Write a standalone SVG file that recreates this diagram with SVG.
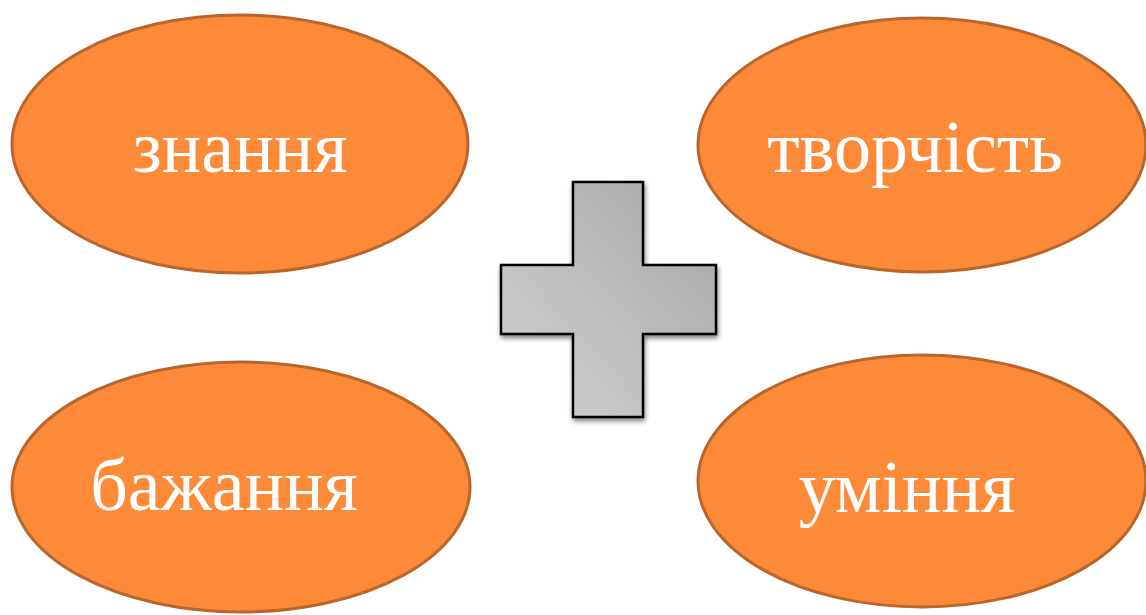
<svg xmlns="http://www.w3.org/2000/svg" width="1146" height="615" viewBox="0 0 1146 615">
<style>
.oval{fill:#fd8a38;stroke:#b8662c;stroke-width:3}
.lbl{font-family:"Liberation Serif","Times New Roman",serif;font-size:74px;fill:#ffffff;text-anchor:middle}
</style>
<defs>
<linearGradient id="g" x1="0" y1="1" x2="1" y2="0">
<stop offset="0" stop-color="#d2d2d2"/>
<stop offset="1" stop-color="#a6a6a6"/>
</linearGradient>
<filter id="sh" x="-20%" y="-20%" width="140%" height="140%">
<feGaussianBlur in="SourceAlpha" stdDeviation="2.5"/>
<feOffset dx="1" dy="3" result="b"/>
<feComponentTransfer><feFuncA type="linear" slope="0.5"/></feComponentTransfer>
<feMerge><feMergeNode/><feMergeNode in="SourceGraphic"/></feMerge>
</filter>
</defs>
<rect width="1146" height="615" fill="#ffffff"/>
<g id="znannia">
<ellipse class="oval" cx="240" cy="144" rx="228" ry="129"/>
<text class="lbl" x="240" y="172">знання</text>
</g>
<g id="tvorchist">
<ellipse class="oval" cx="922" cy="145" rx="224" ry="127"/>
<text class="lbl" x="915" y="172">творчість</text>
</g>
<g id="bazhannia">
<ellipse class="oval" cx="241" cy="487" rx="229" ry="125"/>
<text class="lbl" x="224" y="510">бажання</text>
</g>
<g id="uminnia">
<ellipse class="oval" cx="922" cy="481" rx="224" ry="126"/>
<text class="lbl" x="907" y="512">уміння</text>
</g>
<g id="plus">
<path d="M573 182 H643 V265 H716 V334 H643 V417 H573 V334 H501 V265 H573 Z" fill="url(#g)" stroke="#000000" stroke-width="2.5" filter="url(#sh)"/>
</g>
<g id="connectors"/>
</svg>
